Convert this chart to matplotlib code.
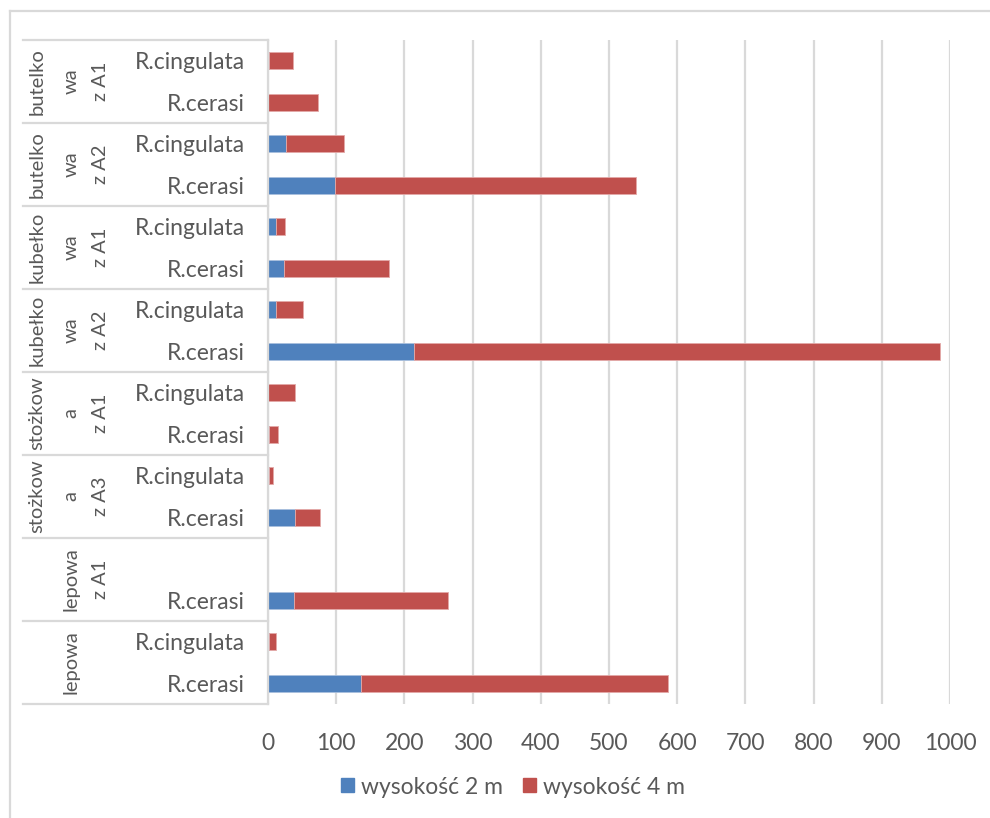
import numpy as np
import matplotlib.pyplot as plt
from matplotlib.patches import Patch
from matplotlib.lines import Line2D
from matplotlib.transforms import blended_transform_factory

plt.rcParams['font.family'] = ['Lato', 'DejaVu Sans']

# trap type groups, bottom to top; each holds two rows (R.cerasi, R.cingulata)
group_lines = [
    ['', 'lepowa', ''],
    ['', 'lepowa', 'z A1'],
    ['stożkow', 'a', 'z A3'],
    ['stożkow', 'a', 'z A1'],
    ['kubełko', 'wa', 'z A2'],
    ['kubełko', 'wa', 'z A1'],
    ['butelko', 'wa', 'z A2'],
    ['butelko', 'wa', 'z A1'],
]
row_labels = ['R.cerasi', 'R.cingulata',
              'R.cerasi', '',
              'R.cerasi', 'R.cingulata',
              'R.cerasi', 'R.cingulata',
              'R.cerasi', 'R.cingulata',
              'R.cerasi', 'R.cingulata',
              'R.cerasi', 'R.cingulata',
              'R.cerasi', 'R.cingulata']

height_2m = [137, 1, 38, 0, 40, 2, 1, 0, 214, 11, 24, 11, 98, 26, 0, 1]
height_4m = [450, 11, 226, 0, 36, 5, 13, 40, 772, 41, 154, 14, 442, 86, 73, 35]

blue = '#4F81BD'
red = '#C0504D'
grey = '#d9d9d9'
txt = '#595959'
fs = 16.5

W, H = 990, 818
fig = plt.figure(figsize=(W / 100, H / 100), dpi=100)
ax = fig.add_axes([268 / W, 1 - 704 / H, (950 - 268) / W, (704 - 40) / H])

y = np.arange(len(row_labels))
ax.barh(y, height_2m, height=0.4, color=blue, edgecolor='#a9c0de', linewidth=0.6)
ax.barh(y, height_4m, left=height_2m, height=0.4, color=red,
        edgecolor='#e3a9a8', linewidth=0.6)

ax.set_xlim(0, 1000)
ax.set_ylim(-0.5, len(row_labels) - 0.5)
ax.set_xticks(range(0, 1001, 100))
ax.set_yticks(y)
ax.set_yticklabels(row_labels)
ax.tick_params(axis='y', length=0, pad=16.5, labelsize=fs, labelcolor=txt)
ax.tick_params(axis='x', length=0, pad=21, labelsize=fs, labelcolor=txt)
ax.grid(axis='x', color=grey, linewidth=1.6)
ax.set_axisbelow(True)
for side in ['top', 'right', 'bottom']:
    ax.spines[side].set_visible(False)
ax.spines['left'].set_color(grey)
ax.spines['left'].set_linewidth(1.6)

# group separators and rotated group names to the left of the axis
tr = blended_transform_factory(fig.transFigure, ax.transData)
for b in np.arange(-0.5, len(row_labels), 2):
    fig.add_artist(Line2D([23 / W, 268 / W], [b, b], transform=tr,
                          color=grey, linewidth=1.6))
slots = [37, 71, 100]
for g, lines in enumerate(group_lines):
    for sx, line in zip(slots, lines):
        if line:
            fig.text(sx / W, 2 * g + 0.5, line, transform=tr, rotation=90,
                     ha='center', va='center', fontsize=14.5, color=txt)

# chart frame
fig.add_artist(Line2D([10 / W, 10 / W], [0, 1 - 11 / H], color=grey, linewidth=1.6))
fig.add_artist(Line2D([10 / W, 1], [1 - 11 / H, 1 - 11 / H], color=grey, linewidth=1.6))

handles = [Patch(color=blue, label='wysokość 2 m'), Patch(color=red, label='wysokość 4 m')]
fig.legend(handles=handles, loc='center', bbox_to_anchor=(513 / W, 1 - 787 / H),
           ncol=2, frameon=False, fontsize=16.5, labelcolor=txt,
           handlelength=0.55, handleheight=0.55, handletextpad=0.3, columnspacing=0.9)

fig.savefig('out.png', dpi=100)
